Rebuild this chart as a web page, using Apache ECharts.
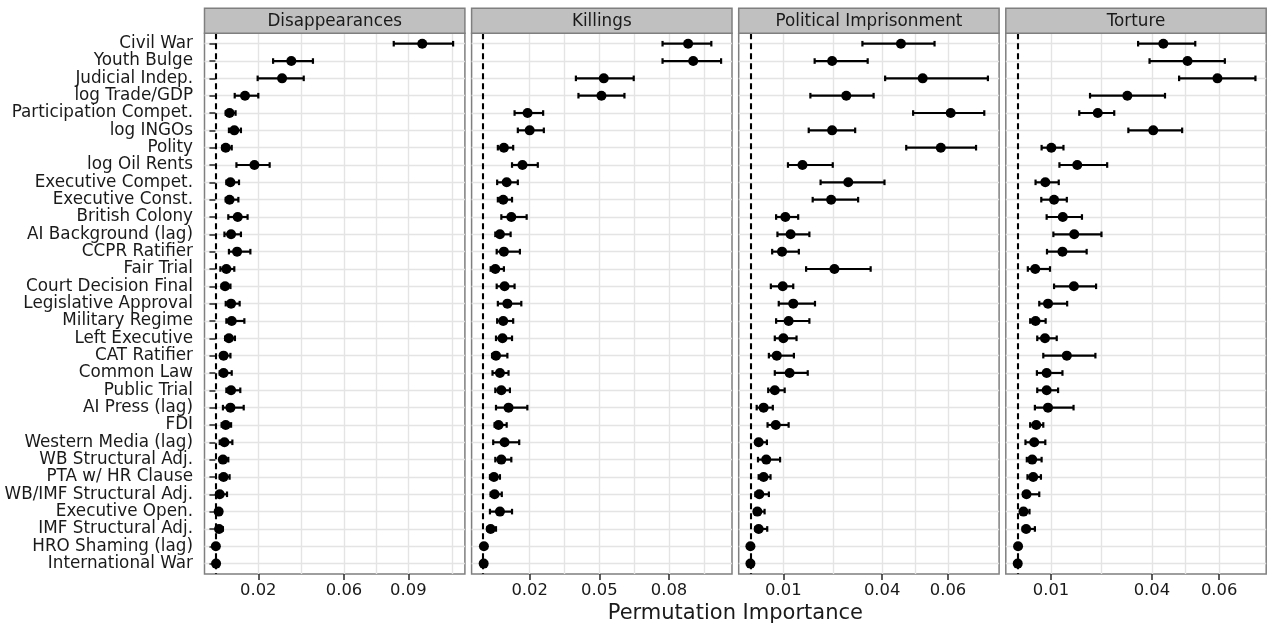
<!DOCTYPE html>
<html>
<head>
<meta charset="utf-8">
<script src="https://cdn.jsdelivr.net/npm/echarts@6/dist/echarts.min.js"></script>
<style>
html,body{margin:0;padding:0;background:#fff;}
#chart{width:1267px;height:627px;}
</style>
</head>
<body>
<div id="chart"></div>
<script>
// ---------------- data ----------------
var categories = ["Civil War","Youth Bulge","Judicial Indep.","log Trade/GDP","Participation Compet.","log INGOs","Polity","log Oil Rents","Executive Compet.","Executive Const.","British Colony","AI Background (lag)","CCPR Ratifier","Fair Trial","Court Decision Final","Legislative Approval","Military Regime","Left Executive","CAT Ratifier","Common Law","Public Trial","AI Press (lag)","FDI","Western Media (lag)","WB Structural Adj.","PTA w/ HR Clause","WB/IMF Structural Adj.","Executive Open.","IMF Structural Adj.","HRO Shaming (lag)","International War"];
var panels = ["Disappearances","Killings","Political Imprisonment","Torture"];

var disPt = [0.0965,0.0354,0.0311,0.0138,0.0066,0.0088,0.0048,0.0182,0.0070,0.0066,0.0104,0.0073,0.0101,0.0051,0.0045,0.0073,0.0076,0.0063,0.0038,0.0038,0.0073,0.0070,0.0048,0.0042,0.0035,0.0038,0.0020,0.0015,0.0017,0.0002,0.0003];
var disLo = [0.0832,0.0269,0.0197,0.0090,0.0048,0.0063,0.0032,0.0098,0.0051,0.0048,0.0060,0.0042,0.0063,0.0023,0.0029,0.0048,0.0051,0.0045,0.0023,0.0020,0.0051,0.0035,0.0029,0.0020,0.0020,0.0020,0.0004,0.0004,0.0004,-0.0002,-0.0001];
var disHi = [0.1109,0.0455,0.0412,0.0200,0.0094,0.0119,0.0076,0.0253,0.0110,0.0107,0.0150,0.0119,0.0163,0.0088,0.0070,0.0113,0.0135,0.0091,0.0070,0.0076,0.0116,0.0132,0.0073,0.0079,0.0060,0.0066,0.0054,0.0029,0.0035,0.0006,0.0007];

var kilPt = [0.0882,0.0904,0.0519,0.0509,0.0191,0.0200,0.0089,0.0169,0.0101,0.0086,0.0121,0.0072,0.0089,0.0052,0.0092,0.0104,0.0086,0.0083,0.0055,0.0072,0.0078,0.0109,0.0066,0.0092,0.0078,0.0046,0.0049,0.0072,0.0032,0.0003,0.0002];
var kilLo = [0.0772,0.0772,0.0399,0.0410,0.0135,0.0149,0.0063,0.0124,0.0060,0.0063,0.0078,0.0052,0.0058,0.0032,0.0058,0.0063,0.0060,0.0055,0.0038,0.0040,0.0052,0.0055,0.0049,0.0043,0.0052,0.0029,0.0032,0.0029,0.0018,-0.0001,-0.0002];
var kilHi = [0.0982,0.1024,0.0648,0.0608,0.0258,0.0261,0.0129,0.0235,0.0149,0.0124,0.0187,0.0118,0.0158,0.0089,0.0135,0.0164,0.0129,0.0124,0.0104,0.0109,0.0115,0.0190,0.0101,0.0155,0.0121,0.0072,0.0080,0.0124,0.0055,0.0007,0.0006];

var polPt = [0.0457,0.0248,0.0523,0.0291,0.0608,0.0248,0.0578,0.0158,0.0297,0.0245,0.0106,0.0122,0.0096,0.0255,0.0098,0.0130,0.0116,0.0100,0.0080,0.0119,0.0074,0.0040,0.0077,0.0025,0.0048,0.0040,0.0027,0.0021,0.0025,0.0000,0.0000];
var polLo = [0.0340,0.0195,0.0409,0.0182,0.0494,0.0177,0.0473,0.0114,0.0213,0.0189,0.0078,0.0082,0.0066,0.0169,0.0062,0.0086,0.0078,0.0074,0.0056,0.0074,0.0054,0.0019,0.0052,0.0017,0.0023,0.0025,0.0015,0.0013,0.0015,-0.0002,-0.0002];
var polHi = [0.0559,0.0356,0.0721,0.0374,0.0710,0.0318,0.0685,0.0250,0.0407,0.0327,0.0145,0.0179,0.0147,0.0365,0.0130,0.0196,0.0179,0.0140,0.0132,0.0174,0.0104,0.0068,0.0116,0.0050,0.0090,0.0061,0.0056,0.0043,0.0051,0.0002,0.0002];

var torPt = [0.0434,0.0506,0.0595,0.0327,0.0239,0.0404,0.0101,0.0178,0.0083,0.0109,0.0135,0.0169,0.0134,0.0053,0.0168,0.0091,0.0054,0.0082,0.0147,0.0087,0.0087,0.0091,0.0056,0.0050,0.0044,0.0047,0.0027,0.0018,0.0026,0.0002,0.0001];
var torLo = [0.0359,0.0393,0.0481,0.0216,0.0184,0.0330,0.0072,0.0125,0.0054,0.0071,0.0087,0.0107,0.0088,0.0031,0.0109,0.0065,0.0038,0.0059,0.0077,0.0058,0.0059,0.0052,0.0038,0.0024,0.0028,0.0030,0.0018,0.0011,0.0016,-0.0001,-0.0002];
var torHi = [0.0529,0.0617,0.0708,0.0439,0.0288,0.0490,0.0137,0.0267,0.0123,0.0147,0.0192,0.0250,0.0206,0.0097,0.0234,0.0148,0.0084,0.0117,0.0232,0.0134,0.0121,0.0167,0.0077,0.0083,0.0072,0.0070,0.0065,0.0036,0.0052,0.0005,0.0004];

// tick labels (major) and extra grid lines (minor) per panel
var majorTicks = [[0.02,0.06,0.09],[0.02,0.05,0.08],[0.01,0.04,0.06],[0.01,0.04,0.06]];
var minorGrid  = [[0.04,0.075,0.1105],[0.035,0.065,0.095],[0.025,0.05],[0.025,0.05]];
var xMin = [-0.0051,-0.0050,-0.00356,-0.00345];
var xMax = [0.1164,0.1071,0.0755,0.0740];

var ptData = [disPt,kilPt,polPt,torPt];
var loData = [disLo,kilLo,polLo,torLo];
var hiData = [disHi,kilHi,polHi,torHi];

// ---------------- layout ----------------
var GL = 204.5, GW = 260.4, GS = 267.1, GT = 33.3, GB = 574;
var STRIP_TOP = 8.3, STRIP_H = 25;
var FONT = '"DejaVu Sans", "Noto Sans", sans-serif';

var catIdx = categories.map(function(_, i){ return i; });

var grids = [], xAxes = [], yAxes = [], series = [], graphics = [];
for (var p = 0; p < 4; p++) {
  var left = GL + p*GS;
  grids.push({left:left, top:GT, width:GW, height:GB-GT, show:true, backgroundColor:'#fff',
              borderColor:'#7f7f7f', borderWidth:1.5, containLabel:false, outerBoundsMode:'none'});
  var allGrid = majorTicks[p].concat(minorGrid[p]).sort(function(a,b){return a-b;});
  // axis carrying grid lines and labels
  xAxes.push({type:'value', gridIndex:p, position:'bottom', min:xMin[p], max:xMax[p],
    axisLine:{show:false},
    axisTick:{show:false, customValues:allGrid},
    splitLine:{show:true, lineStyle:{color:'#e4e4e4', width:1.4}},
    minorSplitLine:{show:false},
    axisLabel:{show:true, customValues:majorTicks[p], margin:9, color:'#1a1a1a', fontSize:16.4, fontFamily:FONT,
      formatter:function(v){ return String(+v.toFixed(3)); }}
  });
  // axis carrying only the major tick marks
  xAxes.push({type:'value', gridIndex:p, position:'bottom', offset:0, min:xMin[p], max:xMax[p],
    axisLine:{show:false},
    axisTick:{show:true, customValues:majorTicks[p], length:6, lineStyle:{color:'#333', width:1.6}},
    splitLine:{show:false},
    axisLabel:{show:false}
  });
  yAxes.push({type:'value', gridIndex:p, inverse:true, min:-0.6, max:30.6,
    axisLine:{show:false},
    axisTick:{show:p===0, customValues:catIdx, length:6, lineStyle:{color:'#333', width:1.6}},
    splitLine:{show:true, lineStyle:{color:'#e4e4e4', width:1.4}},
    axisLabel:{show:p===0, customValues:catIdx, margin:11.5, color:'#1a1a1a', fontSize:16.8, fontFamily:FONT,
      formatter:function(v){ return categories[Math.round(v)]; }}
  });

  var bars = [], pts = [];
  for (var i = 0; i < categories.length; i++) {
    bars.push([loData[p][i], hiData[p][i], i]);
    pts.push([ptData[p][i], i]);
  }
  // zero reference line
  series.push({type:'line', xAxisIndex:2*p, yAxisIndex:p, data:[], z:2,
    markLine:{silent:true, symbol:['none','none'], label:{show:false},
      lineStyle:{color:'#000', type:[6,4], width:2.1},
      data:[{xAxis:0}]}});
  // error bars
  series.push({type:'custom', xAxisIndex:2*p, yAxisIndex:p, z:3, data:bars,
    encode:{x:[0,1], y:2},
    renderItem:function(params, api){
      var y = api.value(2);
      var a = api.coord([api.value(0), y]);
      var b = api.coord([api.value(1), y]);
      var h = 2.8;
      var st = {stroke:'#000', lineWidth:2.2};
      return {type:'group', children:[
        {type:'line', shape:{x1:a[0],y1:a[1],x2:b[0],y2:b[1]}, style:st},
        {type:'line', shape:{x1:a[0],y1:a[1]-h,x2:a[0],y2:a[1]+h}, style:st},
        {type:'line', shape:{x1:b[0],y1:b[1]-h,x2:b[0],y2:b[1]+h}, style:st}
      ]};
    }});
  // points
  series.push({type:'scatter', xAxisIndex:2*p, yAxisIndex:p, z:4, data:pts,
    symbol:'circle', symbolSize:10, itemStyle:{color:'#000', opacity:1}, silent:true});

  // facet strip
  graphics.push({type:'rect', shape:{x:left, y:STRIP_TOP, width:GW, height:STRIP_H},
    style:{fill:'#c0c0c0', stroke:'#7f7f7f', lineWidth:1.5}, z:10});
  graphics.push({type:'text', x:left+GW/2, y:STRIP_TOP+STRIP_H/2+0.5, z:11,
    style:{text:panels[p], font:'16.8px ' + FONT, fill:'#1a1a1a', align:'center', verticalAlign:'middle'}});
}
graphics.push({type:'text', x:GL + (3*GS+GW)/2, y:614, z:11,
  style:{text:'Permutation Importance', font:'21px ' + FONT, fill:'#1a1a1a', align:'center', verticalAlign:'middle'}});

var chart = echarts.init(document.getElementById('chart'), null, {renderer:'canvas'});
chart.setOption({
  animation:false,
  backgroundColor:'#fff',
  grid:grids,
  xAxis:xAxes,
  yAxis:yAxes,
  series:series,
  graphic:graphics,
  tooltip:{show:false}
});
</script>
</body>
</html>
